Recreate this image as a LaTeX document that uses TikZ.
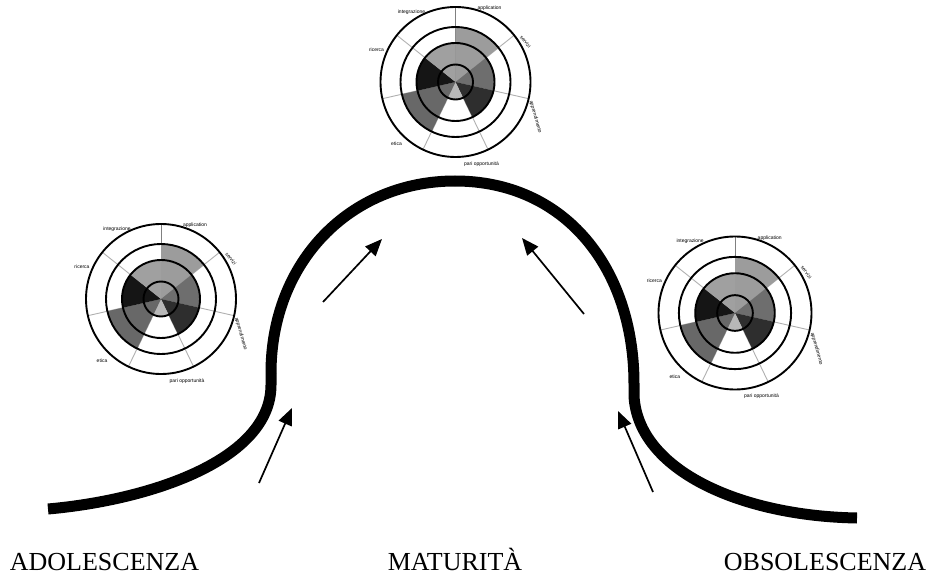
\documentclass[tikz,border=0pt]{standalone}
\usepackage{fontspec}
\setmainfont{Liberation Serif}
\newfontfamily\lblfont{Liberation Sans}
\usetikzlibrary{arrows.meta}
\definecolor{sApp}{HTML}{9C9C9C}
\definecolor{sSer}{HTML}{6E6E6E}
\definecolor{sApr}{HTML}{2E2E2E}
\definecolor{sPari}{HTML}{B8B8B8}
\definecolor{sEti}{HTML}{686868}
\definecolor{sRic}{HTML}{151515}
\definecolor{sInt}{HTML}{A0A0A0}
\definecolor{spokeC}{HTML}{B0B0B0}
\tikzset{
  curveline/.style={line width=11bp, line cap=butt, black},
  arrowline/.style={line width=1.7bp, -{Triangle[length=17bp,width=14bp]}},
  stage/.style={anchor=base, inner sep=0pt, font=\fontsize{26bp}{30bp}\selectfont},
  tinylbl/.style={inner sep=0pt, font=\lblfont\fontsize{5bp}{6bp}\selectfont},
  ring/.style={line width=1.9bp, black},
  spoke/.style={line width=0.9bp, spokeC},
  pics/radar/.style={code={
    \foreach \a in {38.57,-12.86,-64.29,-115.71,-167.14,141.43}
      \draw[spoke] (0,0) -- (\a:75bp);
    \draw[line width=0.9bp, gray] (0,0) -- (90:75bp);
    \fill[sApp] (0,0) -- (90:55bp) arc[start angle=90, end angle=38.57, radius=55bp] -- cycle;
    \fill[sSer] (0,0) -- (38.57:39bp) arc[start angle=38.57, end angle=-12.86, radius=39bp] -- cycle;
    \fill[sApr] (0,0) -- (-12.86:39bp) arc[start angle=-12.86, end angle=-64.29, radius=39bp] -- cycle;
    \fill[sPari] (0,0) -- (-64.29:17.5bp) arc[start angle=-64.29, end angle=-115.71, radius=17.5bp] -- cycle;
    \fill[sEti] (0,0) -- (-115.71:55bp) arc[start angle=-115.71, end angle=-167.14, radius=55bp] -- cycle;
    \fill[sRic] (0,0) -- (-167.14:39bp) arc[start angle=-167.14, end angle=-218.57, radius=39bp] -- cycle;
    \fill[sInt] (0,0) -- (141.43:39bp) arc[start angle=141.43, end angle=90, radius=39bp] -- cycle;
    \draw[ring] (0,0) circle[radius=17.5bp];
    \draw[ring] (0,0) circle[radius=39bp];
    \draw[ring] (0,0) circle[radius=55bp];
    \draw[ring] (0,0) circle[radius=75bp];
    \node[tinylbl] (-int) at (-44,-70) {integrazione};
    \node[tinylbl] (-app) at (34,-73.5) {application};
    \node[tinylbl, rotate=-52] (-ser) at (70,-40) {servizi};
    \node[tinylbl, rotate=-74] (-apr) at (80,35) {apprendimento};
    \node[tinylbl] (-pari) at (26,82) {pari opportunità};
    \node[tinylbl] (-eti) at (-59,62) {etica};
    \node[tinylbl] (-ric) at (-79,-32) {ricerca};
  }}
}
\begin{document}
\begin{tikzpicture}[x=1bp, y=-1bp]
\useasboundingbox[fill=white] (0,0) rectangle (934,576);

% radar charts
\pic (top) at (455.5,82) {radar};
\pic (left) at (161,299) {radar};
\pic[scale=1.02] (right) at (735,313) {radar};

% curve points
\coordinate (c0) at (48,509);
\coordinate (c1) at (271,385);
\coordinate (c2) at (271,373);
\coordinate (c3) at (455,181);
\coordinate (c4) at (634,384);
\coordinate (c5) at (634,396);
\coordinate (c6) at (857,518);

\draw[curveline] (c0) .. controls (150,500) and (271,460) .. (c1) -- (c2);
\draw[curveline] (c2) .. controls (271,262) and (350,181) .. (c3);
\draw[curveline] (c3) .. controls (565,181) and (634,268) .. (c4);
\draw[curveline] (c4) -- (c5) .. controls (638,470) and (740,516) .. (c6);

% arrows
\coordinate (a1s) at (259,483); \coordinate (a1e) at (292,408);
\coordinate (a2s) at (323,302); \coordinate (a2e) at (382,239);
\coordinate (a3s) at (584,314); \coordinate (a3e) at (522,238);
\coordinate (a4s) at (653,492); \coordinate (a4e) at (618,411);
\draw[arrowline] (a1s) -- (a1e);
\draw[arrowline] (a2s) -- (a2e);
\draw[arrowline] (a3s) -- (a3e);
\draw[arrowline] (a4s) -- (a4e);

% stage labels
\node[stage] (adol) at (104.5,570) {ADOLESCENZA};
\node[stage] (mat) at (455,570) {MATURITÀ};
\node[stage] (obs) at (825,570) {OBSOLESCENZA};
\end{tikzpicture}
\end{document}
